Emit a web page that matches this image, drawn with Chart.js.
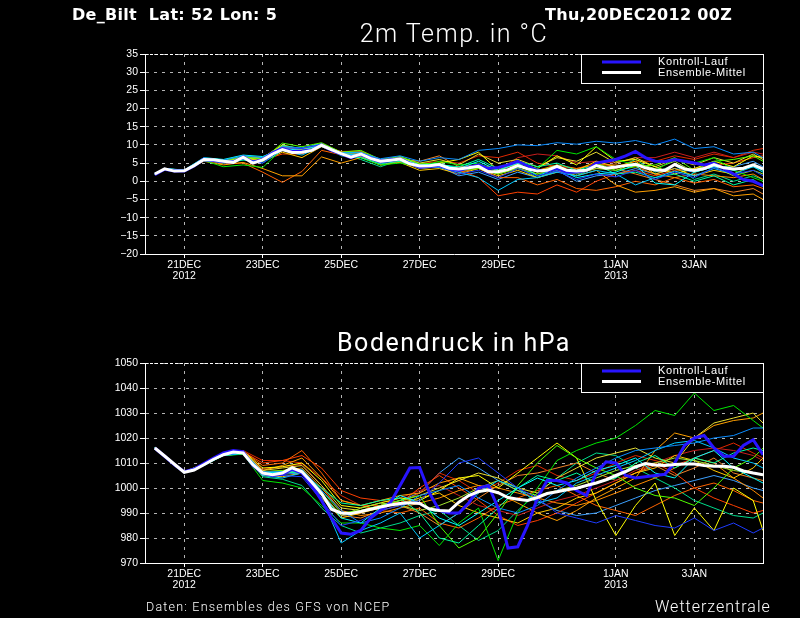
<!DOCTYPE html>
<html>
<head>
<meta charset="utf-8">
<script src="https://cdn.jsdelivr.net/npm/chart.js@4.4.1/dist/chart.umd.min.js"></script>
<style>
    body { margin: 0; background: #000; width: 800px; height: 618px; overflow: hidden; position: relative; }
    canvas { position: absolute; left: 0; }
    .txt { position: absolute; white-space: pre; line-height: 1; color: #fff; }
    .head { font: bold 16px "DejaVu Sans"; letter-spacing: 0.3px; top: 5px; }
    .title { left: 145px; width: 618px; text-align: center; font-family: Roboto; font-size: 25px; letter-spacing: 1.5px; }
    .foot { font-family: Roboto; font-weight: 300; }
</style>
</head>
<body>
<canvas id="temp-chart" width="800" height="309" style="top:0px;width:800px;height:309px"></canvas>
<canvas id="pres-chart" width="800" height="309" style="top:309px;width:800px;height:309px"></canvas>
<div class="txt head" style="left:72px">De_Bilt  Lat: 52 Lon: 5</div>
<div class="txt head" style="left:545px">Thu,20DEC2012 00Z</div>
<div class="txt title" style="top:21px;font-weight:300">2m Temp. in °C</div>
<div class="txt title" style="top:330px;font-weight:400">Bodendruck in hPa</div>
<div class="txt foot" style="left:146px;top:601px;font-size:12.5px;letter-spacing:1.2px">Daten: Ensembles des GFS von NCEP</div>
<div class="txt foot" style="left:655px;top:599px;font-size:16px;letter-spacing:1px">Wetterzentrale</div>
<script>
// forecast hours since 20DEC2012 00Z
const hours = [6,12,18,24,30,36,42,48,54,60,66,72,78,84,90,96,102,108,114,120,126,132,138,144,150,156,162,168,174,180,186,
    192,198,204,210,216,222,228,234,240,246,252,258,264,270,276,282,288,294,300,306,312,318,324,330,336,342,348,354,360,366,372,378];
const memberHours = [6,12,24,36,48,60,72,84,96,108,120,132,144,156,168,180,192,204,216,228,240,252,264,276,288,300,312,324,336,348,360,372,378];

const xTickHours = [24, 72, 120, 168, 216, 288, 336];
const xTickLabels = [['21DEC', '2012'], '23DEC', '25DEC', '27DEC', '29DEC', ['1JAN', '2013'], '3JAN'];

// 2m temperature
const tempMean = [2.0,3.4,2.8,2.9,4.3,6.0,5.9,5.5,5.2,6.6,5.0,5.9,7.5,8.7,7.9,8.0,8.5,9.9,8.7,7.6,6.6,7.5,6.3,5.5,5.8,6.1,4.8,4.2,4.3,4.6,3.6,
    3.4,3.7,4.1,2.6,2.6,3.2,4.3,3.4,2.8,3.0,4.1,3.0,2.8,3.0,4.3,3.6,3.9,4.3,4.7,3.7,3.1,3.0,4.6,3.4,3.0,3.5,4.6,3.7,3.4,3.6,4.5,3.4];
const tempControl = [1.8,3.3,2.8,2.8,4.2,6.1,5.8,5.4,5.3,6.7,5.2,6.0,7.8,9.0,8.2,8.3,8.6,10.0,8.5,7.5,6.5,7.4,6.4,5.6,5.9,6.2,4.9,4.0,4.1,4.3,3.5,
    3.0,3.8,4.5,3.5,3.8,4.5,5.5,4.2,3.0,2.8,3.5,2.5,2.5,3.0,5.0,5.5,6.0,7.0,8.2,6.5,5.5,5.4,6.0,5.5,5.0,4.5,5.0,3.5,2.0,0.5,0.0,-1.2];

const t01 = [1.8,3.3,2.8,5.6,5.2,6.2,5.0,9.2,9.0,10.1,7.2,7.0,5.0,5.8,3.5,4.2,2.0,3.0,1.0,3.5,1.5,2.8,0.5,2.0,1.2,3.0,0.5,2.5,1.0,3.8,2.0,3.0,1.5];
const t02 = [2.1,3.5,3.0,6.3,5.8,7.0,6.5,9.5,9.2,10.2,7.8,7.8,6.2,7.0,5.5,6.5,6.0,8.5,9.0,10.0,9.8,10.6,10.2,11.0,10.5,11.2,10.0,11.6,9.0,9.5,7.5,8.0,6.5];
const t03 = [2.0,3.4,2.9,5.8,5.3,6.0,5.0,8.5,7.2,9.6,7.5,7.2,5.3,6.0,4.0,3.8,2.5,1.0,-2.5,0.5,1.0,2.5,1.5,3.0,2.0,-1.0,1.0,2.8,1.5,3.5,2.0,4.0,3.0];
const t04 = [2.2,3.5,3.1,6.5,6.0,7.2,6.8,9.0,8.5,10.0,7.8,8.0,5.8,6.3,4.5,4.8,3.5,5.5,3.0,5.0,1.5,3.5,1.0,2.0,2.5,4.5,-0.5,-1.0,2.5,4.0,3.0,4.0,2.5];
const t05 = [2.0,3.4,3.0,5.9,5.0,5.8,5.5,9.8,9.0,10.3,7.0,6.5,4.8,5.5,3.8,4.5,4.0,6.0,3.5,5.5,4.0,5.0,3.0,4.5,2.0,2.5,1.0,2.0,0.0,1.5,-1.0,0.5,-1.5];
const t06 = [1.9,3.3,2.8,5.7,4.0,4.5,3.8,8.8,8.0,10.0,7.5,6.5,4.5,5.0,4.0,5.5,4.5,5.0,2.5,4.0,3.5,8.5,7.5,9.5,6.0,4.5,3.0,6.0,5.0,6.5,3.0,1.0,0.0];
const t07 = [2.0,3.4,2.9,6.1,5.6,6.8,6.0,10.5,9.5,10.6,8.0,8.5,6.0,6.8,4.8,5.0,3.0,3.5,2.0,3.5,2.0,3.2,2.0,5.0,3.0,4.0,4.5,6.5,3.0,5.5,6.0,7.0,5.5];
const t08 = [2.1,3.5,3.0,6.2,5.7,6.6,6.2,9.0,8.5,9.8,7.6,7.5,5.5,6.0,4.0,4.2,3.0,4.5,3.0,4.8,2.5,4.5,2.0,3.5,3.0,5.0,3.5,5.5,2.5,4.0,1.5,3.0,2.0];
const t09 = [2.0,3.4,2.8,6.3,5.8,6.8,6.5,10.0,8.8,10.3,7.8,7.2,5.2,6.8,4.2,5.0,6.0,8.0,3.0,5.0,3.5,7.0,4.5,9.5,5.5,6.0,4.0,2.0,3.5,5.5,4.0,7.0,6.5];
const t10 = [2.0,3.3,2.9,6.0,5.5,6.5,6.0,9.5,8.5,9.9,7.5,7.0,5.0,6.5,5.0,6.0,4.5,7.5,5.0,6.0,4.0,6.5,5.5,8.0,5.0,6.5,4.0,6.0,4.5,6.5,5.0,7.5,6.0];
const t11 = [2.0,3.4,2.9,6.0,5.4,6.5,5.5,8.0,6.5,9.5,7.3,6.8,4.5,5.2,3.0,3.5,2.0,3.5,1.5,3.0,1.0,2.5,3.0,5.5,4.0,5.5,2.0,3.5,1.5,3.0,2.0,4.5,3.0];
const t12 = [2.0,3.3,2.8,5.5,4.5,5.2,3.5,1.5,1.5,6.7,5.0,6.5,4.5,5.5,3.5,4.0,3.0,4.0,2.0,3.5,2.0,3.5,1.5,3.0,-1.0,-3.0,-2.5,-1.5,-3.0,-2.0,-4.0,-3.5,-5.0];
const t13 = [2.1,3.5,3.0,6.0,5.6,6.7,6.3,9.6,8.3,10.4,8.0,8.0,5.8,6.5,4.5,4.5,3.5,4.0,2.0,4.0,3.0,4.5,3.5,4.5,4.5,4.0,2.0,1.0,2.0,1.5,1.0,2.0,0.5];
const t14 = [2.0,3.4,2.9,5.8,4.8,5.0,2.5,-0.3,2.7,8.5,7.3,7.2,5.2,6.0,4.0,4.3,2.5,3.5,1.0,1.0,-1.0,0.5,-2.0,-2.5,-1.5,0.0,-1.0,1.0,-0.5,0.5,-1.5,-1.0,-2.0];
const t15 = [2.0,3.4,2.9,6.1,5.5,6.5,5.8,7.5,7.5,9.7,8.2,8.3,6.0,6.3,4.3,4.8,3.2,1.0,-4.0,-3.0,-3.5,-1.0,-3.0,0.0,2.0,3.0,1.5,3.0,3.5,4.5,5.0,6.5,7.0];
const t16 = [2.0,3.4,2.9,6.2,5.8,6.7,6.0,9.3,8.5,10.1,7.7,7.8,5.7,6.2,4.8,5.5,5.0,7.0,6.5,8.0,5.0,4.0,3.5,5.0,4.0,5.5,5.5,7.0,6.0,7.5,6.5,8.5,9.0];
const t17 = [1.9,3.3,2.8,6.0,5.5,6.6,5.9,9.0,8.2,10.0,7.6,7.6,5.6,6.2,4.3,4.7,3.6,4.5,3.0,6.5,7.5,7.0,5.0,5.5,5.0,6.5,6.5,8.0,6.5,8.0,6.5,8.0,7.5];
const t18 = [2.0,3.4,2.9,6.3,5.8,6.9,6.4,9.8,8.8,10.2,8.0,7.3,5.3,6.1,5.5,7.0,4.0,4.5,3.5,4.5,3.0,4.0,2.5,3.5,3.5,2.0,0.5,-1.0,-2.5,-2.0,-3.0,-2.0,-3.5];
const t19 = [2.0,3.4,2.9,5.9,5.2,6.2,5.5,9.1,8.1,9.8,7.5,6.0,4.0,5.8,3.5,4.0,2.5,4.0,2.0,3.8,1.0,2.8,1.5,4.0,3.5,6.0,2.5,4.5,0.5,2.0,0.0,1.5,0.5];
const t20 = [2.0,3.4,2.9,6.0,5.5,6.4,5.8,9.4,8.6,10.0,7.4,7.4,5.4,5.9,3.9,4.1,1.5,2.5,0.5,2.5,1.0,3.0,0.0,1.5,2.0,3.5,2.0,3.5,2.5,4.0,4.0,5.5,4.0];
const tempMembers = [t01,t02,t03,t04,t05,t06,t07,t08,t09,t10,t11,t12,t13,t14,t15,t16,t17,t18,t19,t20];

// surface pressure
const presMean = [1016,1012.8,1009.5,1006.3,1007.2,1009.3,1011.5,1013.3,1014.4,1014,1009.3,1006,1005.3,1006,1008.1,1006.5,1002.3,997.8,991.5,990,989.8,990.6,991.5,992.4,993.2,993.8,994.1,993.8,991.6,991,990.8,
    994.3,997,998.6,999.2,998.1,996.2,995.5,995,996.2,997.8,998.5,999.3,999.9,1001,1002,1003.3,1005,1006.6,1008.4,1009.8,1009.2,1009,1009.4,1009.6,1009.6,1009,1008.7,1008.7,1008.3,1006.8,1006,1005.3];
const presControl = [1016,1012.7,1009.3,1006.5,1007.5,1009.8,1012,1014,1015,1014.5,1009,1006,1005,1005.5,1007.5,1006,
    1001,995,988,982,981.5,983,988,991,994,1001,1008,1008.2,998,991,990,
    990,994,1000,1001,992,976,976.5,985,996,1003,1003,1002,999,997,1006,1010.5,1010,1005,1004,1004.5,1005,1005.5,1010,1017,1020,1021,1016,1012.7,1012.7,1017,1019.3,1013.3];

const p01 = [1016,1012.6,1006.2,1009.0,1013.2,1014.2,1005.5,1005.0,1004.5,995,985,987,991,993,995,1002,1010,1012,1006,1000,996,990,988,986,989,987,985,984,988,983,986,982,984];
const p02 = [1016,1012.8,1006.5,1009.5,1013.5,1014.5,1006.5,1006.5,1007.5,999,991,986,988,992,997,999,1001,996,992,990,993,999,1004,1008,1012,1015,1016,1017,1018,1020,1021,1024,1024];
const p03 = [1016,1012.7,1006.3,1009.2,1013.0,1013.8,1005,1004,1006,996,978,983,986,990,980,985,990,998,1003,1000,994,996,1002,1005,1008,1011,1015,1018,1019,1016,1012,1010,1008];
const p04 = [1016,1012.9,1006.5,1009.5,1013.5,1014.2,1006,1006.5,1007,998,988,986,992,997,994,988,985,990,995,1000,1004,1001,1003,1007,1009,1012,1006,1004,1012,1015,1008,1004,1002];
const p05 = [1016,1012.7,1006.2,1009.3,1013.2,1014,1006,1006.5,1006,1000,994,993,995,996,990,980,978,985,992,1000,1005,1003,1006,1002,1004,1010,1013,1008,1012,1010,1014,1016,1015];
const p06 = [1016,1012.7,1006,1009,1013,1013.5,1003,1002,1000,993,986,986,984,983,985,977,986,992,971,990,1000,1011,1015,1018,1020,1025,1031,1029,1038,1031,1033,1027,1024];
const p07 = [1016,1012.8,1006.3,1009.3,1013.4,1014.3,1006.5,1007,1007.5,999,990,991,993,995,997,985,976,980,990,1001,1010,1017,1012,1008,1005,1000,997,996,993,1000,1008,1012,1016];
const p08 = [1016,1012.8,1006.4,1009.4,1013.5,1014.2,1006,1006,1006.5,997,989,992,994,993,991,993,996,1000,1003,999,997,999,1001,1004,1007,1009,1010,1012,1011,1009,1007,1006,1005];
const p09 = [1016,1012.8,1006.3,1009.3,1013.4,1014.8,1008,1008.5,1010,1003,993,992,994,996,995,999,1004,1005,1000,1006,1012,1018,1012,995,981,993,1002,981,992,983,1000,995,983];
const p10 = [1016,1012.8,1006.4,1009.3,1013.3,1014.5,1007,1008,1009,1001,992,991,993,995,997,1000,1003,1006,1004,1000,998,1004,1008,1012,1014,1016,1012,1010,1020,1026,1028,1030,1026];
const p11 = [1016,1012.8,1006.2,1009.2,1013,1013.8,1005,1004.5,1006,996,988,990,992,994,996,998,993,990,988,986,990,992,996,998,1002,1006,1008,1013,1011,1007,1004,1008,1012];
const p12 = [1016,1012.7,1006.2,1009.1,1013.2,1014.6,1007,1009,1012,1004,995,993,995,997,998,1002,1004,1001,998,994,990,987,991,996,1000,1004,1015,1022,1020,1025,1027,1028,1030];
const p13 = [1016,1012.8,1006.3,1009.2,1013.3,1014.4,1006.5,1007,1008,1000,991,989,990,992,994,996,999,1001,1000,998,996,994,993,995,998,1001,1004,1008,1012,1010,1004,999,996];
const p14 = [1016,1012.9,1006.5,1009.5,1013.6,1014.8,1009,1010,1015,1006,995,993,991,990,992,986,984,988,993,996,999,1001,997,993,991,989,993,997,1000,1002,999,995,994];
const p15 = [1016,1012.8,1006.4,1009.3,1013.3,1014.5,1010,1011,1013,1008,999,996,995,994,1000,1005,1000,995,989,985,987,990,994,998,1002,1006,1010,1006,1000,996,993,990,991];
const p16 = [1016,1012.9,1006.6,1009.6,1013.7,1015,1011,1011,1010,1004,997,993,993,994,998,1006,1003,998,1002,1007,1009,1005,1003,1006,1010,1013,1011,1009,1012,1015,1018,1014,1012];
const p17 = [1016,1012.8,1006.4,1009.4,1013.4,1014.6,1007.5,1008.5,1009.5,1001,990,990,993,996,999,1001,997,993,991,989,992,995,997,1000,1003,1007,1010,1013,1015,1016,1015,1013,1011];
const p18 = [1016,1012.8,1006.3,1009.3,1013.3,1014.4,1006,1006,1007,998,989,988,991,993,990,985,990,996,1001,1005,1006,1008,1010,1006,1003,1006,1009,1005,1008,1012,1006,1004,1003];
const p19 = [1016,1012.6,1006,1009,1013,1013.6,1004.5,1003.5,1001,992,985,982,984,986,989,991,985,979,983,991,998,1004,1010,1014,1013,1008,1004,1000,995,992,989,988,990];
const p20 = [1016,1012.7,1006.2,1009.1,1013.1,1014,1005.5,1005.5,1006,997,989,990,993,995,998,1006,1012,1008,1003,999,995,991,989,990,993,996,999,1001,1003,1005,1003,1000,999];
const presMembers = [p01,p02,p03,p04,p05,p06,p07,p08,p09,p10,p11,p12,p13,p14,p15,p16,p17,p18,p19,p20];

const memberColors = ['#1e3cff','#0a8cff','#00c8ff','#00ffff','#00ffa0','#00e600','#50ff00','#a0e632','#ffff00','#e6dc32',
    '#ffc800','#ffa000','#ff8c00','#ff6400','#ff4000','#e02800','#c81e1e','#f08228','#00dc8c','#3ca0ff'];

function toPoints(xs, ys) {
    return ys.map((y, i) => ({x: xs[i], y: y}));
}

// frame: solid right edge, dashed top edge
const frame = {
    id: 'frame',
    afterDatasetsDraw(chart) {
        const {ctx, chartArea: a} = chart;
        ctx.save();
        ctx.strokeStyle = '#fff';
        ctx.lineWidth = 1;
        ctx.beginPath();
        ctx.moveTo(Math.round(a.right) + 0.5, a.top);
        ctx.lineTo(Math.round(a.right) + 0.5, a.bottom);
        ctx.stroke();
        ctx.setLineDash([3, 2]);
        ctx.beginPath();
        ctx.moveTo(a.left, Math.round(a.top) + 0.5);
        ctx.lineTo(a.right, Math.round(a.top) + 0.5);
        ctx.stroke();
        ctx.restore();
    }
};

// boxed legend in the top right corner of the plot
const boxLegend = {
    id: 'boxLegend',
    afterDraw(chart) {
        const {ctx, chartArea: a} = chart;
        const items = chart.data.datasets.filter(d => d.inLegend);
        const w = 182, h = 29;
        const left = Math.round(a.right) - w, top = Math.round(a.top);
        ctx.save();
        ctx.fillStyle = '#000';
        ctx.fillRect(left, top, w, h);
        ctx.strokeStyle = '#fff';
        ctx.lineWidth = 1;
        ctx.strokeRect(left + 0.5, top + 0.5, w, h);
        ctx.font = '11px "Liberation Sans"';
        ctx.letterSpacing = '0.6px';
        ctx.textBaseline = 'middle';
        items.forEach((d, i) => {
            const y = top + 8 + i * 10.5;
            ctx.strokeStyle = d.borderColor;
            ctx.lineWidth = 3;
            ctx.beginPath();
            ctx.moveTo(left + 21, y);
            ctx.lineTo(left + 60, y);
            ctx.stroke();
            ctx.fillStyle = '#fff';
            ctx.fillText(d.label, left + 77, y);
        });
        ctx.restore();
    }
};

function makeChart(id, mean, control, members, yMin, yMax, yStep) {
    // lower order is drawn on top: mean over control over members
    const datasets = [
        {label: 'Kontroll-Lauf', inLegend: true, order: 1, data: toPoints(hours, control), borderColor: '#2814ff', borderWidth: 3},
        {label: 'Ensemble-Mittel', inLegend: true, order: 0, data: toPoints(hours, mean), borderColor: '#ffffff', borderWidth: 3}
    ];
    members.forEach((m, i) => {
        datasets.push({label: 'Member ' + (i + 1), order: 2, data: toPoints(memberHours, m), borderColor: memberColors[i], borderWidth: 1});
    });

    return new Chart(document.getElementById(id), {
        type: 'line',
        data: {datasets: datasets},
        plugins: [frame, boxLegend],
        options: {
            responsive: false,
            animation: false,
            devicePixelRatio: 1,
            layout: {padding: {top: 54, right: 37, bottom: 0, left: 0}},
            elements: {point: {radius: 0}, line: {tension: 0}},
            plugins: {legend: {display: false}, tooltip: {enabled: false}},
            scales: {
                x: {
                    type: 'linear',
                    min: 0,
                    max: 378,
                    afterFit: s => { s.height = 55; },
                    afterBuildTicks: s => { s.ticks = xTickHours.map(v => ({value: v})); },
                    ticks: {
                        color: '#fff',
                        font: {family: 'Liberation Sans', size: 10.5, lineHeight: 1.05},
                        padding: 2,
                        maxRotation: 0,
                        autoSkip: false,
                        callback: v => xTickLabels[xTickHours.indexOf(v)]
                    },
                    grid: {color: '#b4b4b4', tickColor: '#fff', tickLength: 4},
                    border: {color: '#fff', dash: [3, 5]}
                },
                y: {
                    min: yMin,
                    max: yMax,
                    afterFit: s => { s.width = 145; },
                    ticks: {
                        stepSize: yStep,
                        color: '#fff',
                        font: {family: 'Liberation Sans', size: 10.5},
                        padding: 2,
                        callback: v => String(v).replace('-', '\u2212')
                    },
                    grid: {color: '#b4b4b4', tickColor: '#fff', tickLength: 5},
                    border: {color: '#fff', dash: [3, 5]}
                }
            }
        }
    });
}

let tempChart = makeChart('temp-chart', tempMean, tempControl, tempMembers, -20, 35, 5);
let presChart = makeChart('pres-chart', presMean, presControl, presMembers, 970, 1050, 10);
</script>
</body>
</html>
